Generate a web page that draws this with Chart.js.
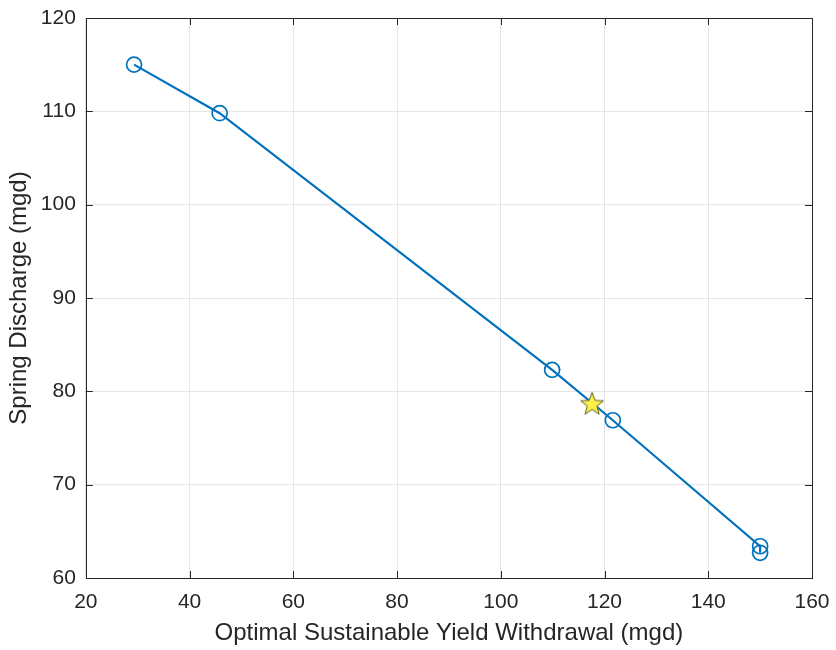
<!DOCTYPE html>
<html>
<head>
<meta charset="utf-8">
<script src="https://cdn.jsdelivr.net/npm/chart.js@4/dist/chart.umd.min.js"></script>
<style>
    html, body { margin: 0; padding: 0; background: #fff; }
    #wrap { width: 836px; height: 650px; position: relative; }
</style>
</head>
<body>
<div id="wrap"><canvas id="chart" width="836" height="650"></canvas></div>
<script>
// data
const withdrawal = [29.3, 45.8, 109.9, 121.6, 150.0, 150.0];
const discharge = [115.0, 109.8, 82.3, 76.9, 63.4, 62.7];
const optimumX = [117.6];
const optimumY = [78.7];
const xTicks = [20, 40, 60, 80, 100, 120, 140, 160];
const yTicks = [60, 70, 80, 90, 100, 110, 120];

const blue = '#0072BD';
const fontFamily = '"Liberation Sans", Arial, sans-serif';

function makeStar(r) {
    const c = document.createElement('canvas');
    const size = Math.ceil(r * 2 + 4);
    c.width = size;
    c.height = size;
    const g = c.getContext('2d');
    const cx = size / 2, cy = size / 2 + 1;
    g.beginPath();
    for (let i = 0; i < 10; i++) {
        const rad = i % 2 === 0 ? r : r * 0.42;
        const a = -Math.PI / 2 + i * Math.PI / 5;
        const px = cx + rad * Math.cos(a);
        const py = cy + rad * Math.sin(a);
        if (i === 0) g.moveTo(px, py); else g.lineTo(px, py);
    }
    g.closePath();
    g.fillStyle = '#FFF04A';
    g.fill();
    g.lineWidth = 1;
    g.strokeStyle = '#5a5a2a';
    g.stroke();
    return c;
}

// box around the plot and inward ticks on all four sides, like matlab
const boxPlugin = {
    id: 'boxPlugin',
    afterDraw(chart) {
        const ctx = chart.ctx;
        const a = chart.chartArea;
        const xs = chart.scales.x, ys = chart.scales.y;
        ctx.save();
        ctx.strokeStyle = '#262626';
        ctx.lineWidth = 1;
        ctx.beginPath();
        xTicks.forEach(v => {
            const px = Math.round(xs.getPixelForValue(v)) + 0.5;
            ctx.moveTo(px, a.bottom); ctx.lineTo(px, a.bottom - 7);
            ctx.moveTo(px, a.top); ctx.lineTo(px, a.top + 7);
        });
        yTicks.forEach(v => {
            const py = Math.round(ys.getPixelForValue(v)) + 0.5;
            ctx.moveTo(a.left, py); ctx.lineTo(a.left + 7, py);
            ctx.moveTo(a.right, py); ctx.lineTo(a.right - 7, py);
        });
        ctx.stroke();
        ctx.strokeRect(Math.round(a.left) + 0.5, Math.round(a.top) + 0.5,
            Math.round(a.right - a.left), Math.round(a.bottom - a.top));
        ctx.restore();
    }
};

const ctx = document.getElementById('chart').getContext('2d');
new Chart(ctx, {
    type: 'scatter',
    data: {
        datasets: [{
            label: 'Pareto front',
            data: withdrawal.map((x, i) => ({x: x, y: discharge[i]})),
            showLine: true,
            borderColor: blue,
            borderWidth: 2.2,
            pointRadius: 7.5,
            pointBorderWidth: 1.7,
            pointBorderColor: blue,
            pointBackgroundColor: 'rgba(255,255,255,0)',
            order: 2
        }, {
            label: 'Optimum',
            data: optimumX.map((x, i) => ({x: x, y: optimumY[i]})),
            pointStyle: makeStar(12),
            pointRadius: 12,
            order: 1
        }]
    },
    options: {
        responsive: false,
        animation: false,
        layout: { padding: { top: 0, right: 0, left: 5, bottom: 2 } },
        plugins: {
            legend: { display: false },
            tooltip: { enabled: false }
        },
        scales: {
            x: {
                type: 'linear',
                min: 20,
                max: 160,
                afterBuildTicks: axis => { axis.ticks = xTicks.map(v => ({value: v})); },
                afterFit: s => { s.paddingRight = 24; },
                grid: { color: '#e6e6e6', drawTicks: false },
                border: { display: false },
                ticks: { color: '#262626', font: { family: fontFamily, size: 21 }, padding: 12 },
                title: {
                    display: true,
                    text: 'Optimal Sustainable Yield Withdrawal (mgd)',
                    color: '#262626',
                    font: { family: fontFamily, size: 24 },
                    padding: { top: -8, bottom: 0 }
                }
            },
            y: {
                type: 'linear',
                min: 60,
                max: 120,
                afterBuildTicks: axis => { axis.ticks = yTicks.map(v => ({value: v})); },
                afterFit: s => { s.paddingTop = 18; },
                grid: { color: '#e6e6e6', drawTicks: false },
                border: { display: false },
                ticks: { color: '#262626', font: { family: fontFamily, size: 21 }, padding: 10 },
                title: {
                    display: true,
                    text: 'Spring Discharge (mgd)',
                    color: '#262626',
                    font: { family: fontFamily, size: 24 },
                    padding: { top: 0, bottom: -3 }
                }
            }
        }
    },
    plugins: [boxPlugin]
});
</script>
</body>
</html>
